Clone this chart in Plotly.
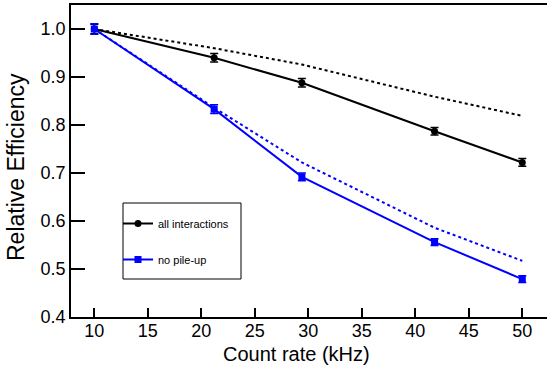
import plotly.graph_objects as go

rate = [10, 21.2, 29.4, 41.8, 50]
all_eff = [1.0, 0.940, 0.888, 0.787, 0.722]
all_err = [0.010, 0.009, 0.009, 0.008, 0.008]
nopu_eff = [1.0, 0.833, 0.692, 0.556, 0.479]
nopu_err = [0.011, 0.009, 0.008, 0.007, 0.007]
all_dotted = [1.0, 0.960, 0.926, 0.859, 0.819]
nopu_dotted = [1.0, 0.836, 0.722, 0.586, 0.517]

xticks = [10, 15, 20, 25, 30, 35, 40, 45, 50]
yticks = [0.4, 0.5, 0.6, 0.7, 0.8, 0.9, 1.0]
ytick_text = ["0.4", "0.5", "0.6", "0.7", "0.8", "0.9", "1.0"]

FONT = "Liberation Sans, Arial, Helvetica, sans-serif"

fig = go.Figure()

fig.add_trace(go.Scatter(
    x=rate, y=all_dotted, mode="lines",
    line=dict(color="black", width=2, dash="3px,3px"),
    showlegend=False, hoverinfo="skip"))
fig.add_trace(go.Scatter(
    x=rate, y=nopu_dotted, mode="lines",
    line=dict(color="blue", width=2, dash="3px,3px"),
    showlegend=False, hoverinfo="skip"))

fig.add_trace(go.Scatter(
    x=rate, y=all_eff, mode="lines+markers", name="all interactions",
    legendgroup="a",
    line=dict(color="black", width=2),
    marker=dict(symbol="circle", size=7, color="black"),
    error_y=dict(type="data", array=all_err, color="black", thickness=1.5, width=4)))
fig.add_trace(go.Scatter(
    x=rate, y=nopu_eff, mode="lines+markers", name="no pile-up",
    legendgroup="b",
    line=dict(color="blue", width=2),
    marker=dict(symbol="square", size=7, color="blue"),
    error_y=dict(type="data", array=nopu_err, color="blue", thickness=1.5, width=4)))

# legend frame
fig.add_shape(type="rect", xref="paper", yref="paper",
              x0=(123 - 71) / 476, x1=(241 - 71) / 476,
              y0=(317 - 279) / 312, y1=(317 - 203) / 312,
              line=dict(color="black", width=1), fillcolor="rgba(0,0,0,0)",
              layer="above")

fig.add_annotation(text="Count rate (kHz)", xref="paper", yref="paper",
                   x=(296 - 71) / 476, y=(317 - 354) / 312,
                   xanchor="center", yanchor="middle", showarrow=False,
                   font=dict(size=20, family=FONT, color="black"))
fig.add_annotation(text="Relative Efficiency", xref="paper", yref="paper",
                   x=(16 - 71) / 476, y=(317 - 167) / 312, textangle=-90,
                   xanchor="center", yanchor="middle", showarrow=False,
                   font=dict(size=23, family=FONT, color="black"))

fig.update_layout(
    width=547, height=365,
    margin=dict(l=71, r=0, t=5, b=48),
    plot_bgcolor="white", paper_bgcolor="white",
    font=dict(family=FONT, color="black"),
    showlegend=True,
    legend=dict(
        x=(118 - 71) / 476, y=(317 - 209) / 312, xanchor="left", yanchor="top",
        borderwidth=0, bgcolor="rgba(0,0,0,0)",
        font=dict(size=11, family=FONT),
        traceorder="grouped", tracegroupgap=17,
        itemwidth=30,
    ),
    xaxis=dict(
        range=[7.82, 52.31], tickmode="array", tickvals=xticks,
        ticks="inside", ticklen=9, tickwidth=1.5, tickcolor="black",
        showline=True, linecolor="black", linewidth=1.5, mirror=True,
        showgrid=False, zeroline=False,
        tickfont=dict(size=18), ticklabelstandoff=-3,
    ),
    yaxis=dict(
        range=[0.4, 1.05], tickmode="array", tickvals=yticks, ticktext=ytick_text,
        ticks="inside", ticklen=14, tickwidth=1.5, tickcolor="black",
        showline=True, linecolor="black", linewidth=1.5,
        showgrid=False, zeroline=False,
        tickfont=dict(size=18),
    ),
)

fig.write_html("out.html")
